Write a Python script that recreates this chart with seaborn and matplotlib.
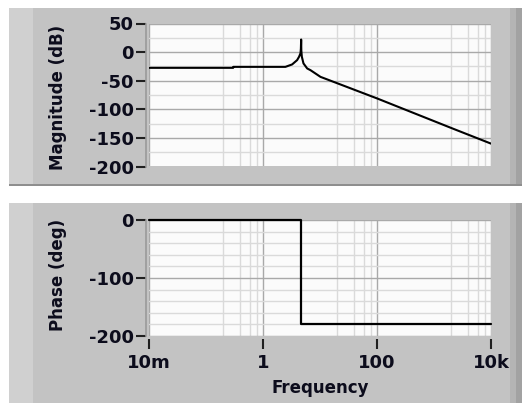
import matplotlib
matplotlib.use("Agg")
import numpy as np
import pandas as pd
import seaborn as sb
import matplotlib.pyplot as plt
import matplotlib.ticker as ticker
from matplotlib.patches import Rectangle

# values (frequency in Hz, log axis)
mag_freq = [0.01, 0.30, 0.301, 2.47, 3.24, 3.97, 4.3, 4.55, 4.62, 4.67, 4.70, 4.8, 5.13,
            5.96, 6.81, 10.2, 17.3, 101.6, 392, 2235, 10000]
mag_db = [-27.5, -27.5, -25.8, -25.8, -21.6, -14.0, -8.0, -2.0, 6.0, 22.0, 3.0, -8.0, -19.8,
          -28.6, -31.6, -43.3, -52.0, -81.2, -104.5, -134.5, -160.0]

phase_freq = [0.01, 4.6, 4.6, 10000]
phase_deg = [0, 0, -180, -180]

x_ticks = [0.01, 1, 100, 10000]
x_labels = ['10m', '1', '100', '10k']
x_minor = [0.2, 0.4, 0.6, 0.8, 20, 40, 60, 80, 2000, 4000, 6000, 8000]

mag_ticks = [50, 0, -50, -100, -150, -200]
phase_ticks = [0, -100, -200]

W, H = 528, 403
sb.set_style("white")
plt.rcParams['font.family'] = ['DejaVu Sans']
plt.rcParams['font.weight'] = 'bold'
plt.rcParams['axes.unicode_minus'] = False

fig = plt.figure(figsize=(W / 100, H / 100), dpi=100)
fig.patch.set_facecolor('white')


def box(x0, y0, x1, y1):
    # pixel box (top-left origin) -> figure fraction rect
    return [x0 / W, 1 - y1 / H, (x1 - x0) / W, (y1 - y0) / H]


def panel(y0, y1):
    for (x0, x1, c) in [(9, 522, '#c3c3c3'), (9, 33, '#d0d0d0'), (510, 516, '#b4b4b4'),
                        (516, 522, '#a2a2a2')]:
        r = box(x0, y0, x1, y1)
        fig.patches.append(Rectangle((r[0], r[1]), r[2], r[3], transform=fig.transFigure,
                                     facecolor=c, edgecolor='none', zorder=-10))
    r = box(9, y1 - 2, 522, y1)
    fig.patches.append(Rectangle((r[0], r[1]), r[2], r[3], transform=fig.transFigure,
                                 facecolor='#8e8e8e', edgecolor='none', zorder=-10))


panel(8, 186)
panel(203, 405)

ax1 = fig.add_axes(box(149, 23.5, 491, 166.5))
ax2 = fig.add_axes(box(149, 220, 491, 336))

major_c = '#a9a9a9'
minor_c = '#dadada'

for ax, ticks, lims, minor_step in [(ax1, mag_ticks, (-200, 50), 25),
                                    (ax2, phase_ticks, (-200, 0), 20)]:
    ax.set_facecolor('#fbfbfb')
    ax.set_xscale('log')
    ax.set_xlim(0.01, 10000)
    ax.set_ylim(*lims)
    ax.set_yticks(ticks)
    ax.yaxis.set_minor_locator(ticker.MultipleLocator(minor_step))
    ax.set_xticks(x_ticks)
    ax.xaxis.set_minor_locator(ticker.FixedLocator(x_minor))
    ax.xaxis.set_minor_formatter(ticker.NullFormatter())
    ax.grid(True, which='major', color=major_c, linewidth=1.0)
    ax.grid(True, which='minor', color=minor_c, linewidth=1.0)
    ax.set_axisbelow(True)
    for s in ['top', 'right', 'bottom']:
        ax.spines[s].set_visible(False)
    ax.spines['left'].set_position(('outward', 2))
    ax.spines['left'].set_color('#9a9a9a')
    ax.spines['left'].set_linewidth(1.2)
    ax.tick_params(axis='y', which='major', direction='out', length=7, width=1.5,
                   color='#202020', pad=2, labelsize=13, labelcolor='#0c0c1c', left=True)
    ax.tick_params(axis='y', which='minor', length=0)
    ax.tick_params(axis='x', which='minor', length=0)

ax1.tick_params(axis='x', which='major', length=0, labelbottom=False)
ax2.set_xticklabels(x_labels)
ax2.spines['bottom'].set_visible(True)
ax2.spines['bottom'].set_position(('outward', 2))
ax2.spines['bottom'].set_color('none')
ax2.tick_params(axis='x', which='major', direction='out', length=7, width=1.5,
                color='#202020', pad=4, labelsize=13, labelcolor='#0c0c1c', bottom=True)

mag_df = pd.DataFrame({'freq': mag_freq, 'mag': mag_db})
phase_df = pd.DataFrame({'freq': phase_freq, 'phase': phase_deg})

sb.lineplot(data=mag_df, x='freq', y='mag', ax=ax1, color='black', linewidth=1.5,
            estimator=None, sort=False)
sb.lineplot(data=phase_df, x='freq', y='phase', ax=ax2, color='black', linewidth=1.6,
            estimator=None, sort=False, clip_on=False)
for ax in (ax1, ax2):
    ax.set_xlabel('')
    ax.set_ylabel('')

fig.text(58 / W, 1 - 97 / H, 'Magnitude (dB)', rotation=90, ha='center', va='center',
         fontsize=12, fontweight='bold', color='#0c0c1c')
fig.text(58 / W, 1 - 275 / H, 'Phase (deg)', rotation=90, ha='center', va='center',
         fontsize=12, fontweight='bold', color='#0c0c1c')
fig.text(320 / W, 1 - 388 / H, 'Frequency', ha='center', va='center',
         fontsize=12, fontweight='bold', color='#0c0c1c')

fig.savefig('out.png', dpi=100)
